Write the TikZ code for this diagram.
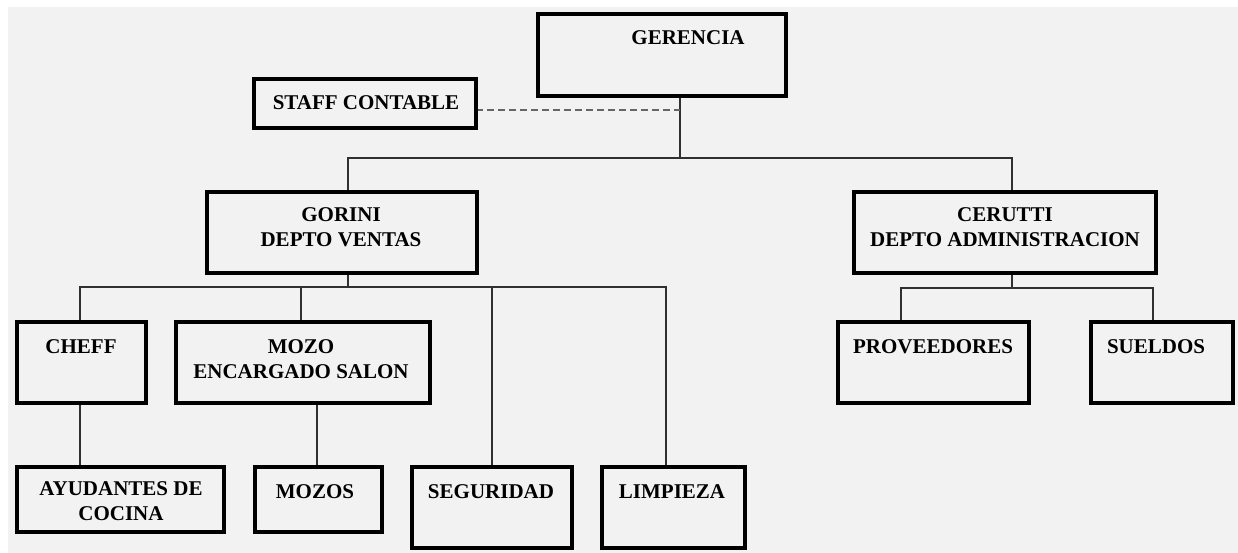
\documentclass[tikz,border=0pt]{standalone}
\usepackage{fontspec}
\setmainfont{Liberation Serif}
\definecolor{bgc}{HTML}{F2F2F2}
\definecolor{connc}{HTML}{303030}
\definecolor{dashc}{HTML}{666666}
\tikzset{
  box/.style={draw=black, line width=3.4pt, fill=bgc, inner sep=0pt},
  lbl/.style={font=\fontsize{21}{25}\selectfont\bfseries, inner sep=0pt, align=center, anchor=base},
  conn/.style={draw=connc, line width=2.2pt},
  dashconn/.style={draw=dashc, line width=2.4pt, dash pattern=on 7pt off 4pt},
}
\begin{document}
\begin{tikzpicture}[x=1pt, y=-1pt]
\useasboundingbox (0,0) rectangle (1238,553);
\fill[white] (0,0) rectangle (1238,553);
\fill[bgc] (8,7) rectangle (1238,553);

% bus coordinates
\coordinate (b0) at (680,158);
\coordinate (b0l) at (348,158);
\coordinate (b0r) at (1012,158);
\coordinate (d0) at (680,110);
\coordinate (b1) at (348,287);
\coordinate (b1a) at (80,287);
\coordinate (b1b) at (301,287);
\coordinate (b1c) at (492,287);
\coordinate (b1d) at (666,287);
\coordinate (b2) at (1012,288);
\coordinate (b2a) at (901,288);
\coordinate (b2b) at (1153,288);
\coordinate (c1) at (80,0);
\coordinate (c2) at (317,0);

% connectors
\draw[conn] (b0 |- 0,96) -- (b0);
\draw[conn] (b0l |- 0,192) -- (b0l) -- (b0r) -- (b0r |- 0,192);
\draw[conn] (b1 |- 0,273) -- (b1);
\draw[conn] (b1a |- 0,322) -- (b1a) -- (b1d) -- (b1d |- 0,467);
\draw[conn] (b1b) -- (b1b |- 0,322);
\draw[conn] (b1c) -- (b1c |- 0,467);
\draw[conn] (b2 |- 0,273) -- (b2);
\draw[conn] (b2a |- 0,322) -- (b2a) -- (b2b) -- (b2b |- 0,322);
\draw[conn] (c1 |- 0,403) -- (c1 |- 0,467);
\draw[conn] (c2 |- 0,403) -- (c2 |- 0,467);
\draw[dashconn] (476,110) -- (d0);

% boxes
\node[box, minimum width=248pt, minimum height=82pt] (g) at (662,55) {};
\node[box, minimum width=222pt, minimum height=49pt] (st) at (365,103.5) {};
\node[box, minimum width=270pt, minimum height=81pt] (gor) at (342,232.5) {};
\node[box, minimum width=302pt, minimum height=81pt] (cer) at (1005,232.5) {};
\node[box, minimum width=129pt, minimum height=81pt] (ch) at (81.5,362.5) {};
\node[box, minimum width=254pt, minimum height=81pt] (mz) at (303,362.5) {};
\node[box, minimum width=207pt, minimum height=65pt] (ay) at (120.5,499.5) {};
\node[box, minimum width=127pt, minimum height=65pt] (ms) at (318.5,499.5) {};
\node[box, minimum width=160pt, minimum height=81pt] (sg) at (492,507.5) {};
\node[box, minimum width=143pt, minimum height=81pt] (lp) at (673.5,507.5) {};
\node[box, minimum width=191pt, minimum height=81pt] (pv) at (933.5,362.5) {};
\node[box, minimum width=142pt, minimum height=81pt] (su) at (1162,362.5) {};

% labels
\node[lbl] (gt) at (688,45) {GERENCIA};
\node[lbl] (stt) at (366,110) {STAFF CONTABLE};
\node[lbl] (gort) at (341,247) {GORINI\\DEPTO VENTAS};
\node[lbl] (cert) at (1005,247) {CERUTTI\\DEPTO ADMINISTRACION};
\node[lbl] (cht) at (81,353) {CHEFF};
\node[lbl] (mzt) at (301,378) {MOZO\\ENCARGADO SALON};
\node[lbl] (ayt) at (121,520) {AYUDANTES DE\\COCINA};
\node[lbl] (mst) at (315,498) {MOZOS};
\node[lbl] (sgt) at (491,498) {SEGURIDAD};
\node[lbl] (lpt) at (672,498) {LIMPIEZA};
\node[lbl] (pvt) at (933,353) {PROVEEDORES};
\node[lbl] (sut) at (1156,353) {SUELDOS};
\end{tikzpicture}
\end{document}
